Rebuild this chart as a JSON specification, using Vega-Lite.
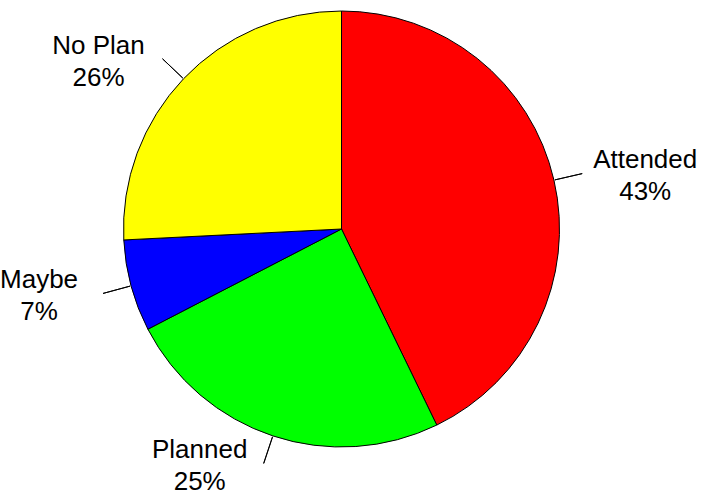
{
  "$schema": "https://vega.github.io/schema/vega-lite/v6.json",
  "width": 683,
  "height": 458,
  "autosize": {"type": "none"},
  "padding": {"left": 0, "top": 0, "right": 18, "bottom": 40},
  "background": "white",
  "config": {"view": {"stroke": null}},
  "data": {
    "values": [
      {"category": "Attended", "pct": "43%", "value": 42.8, "ord": 1},
      {"category": "Planned", "pct": "25%", "value": 24.6, "ord": 2},
      {"category": "Maybe", "pct": "7%", "value": 6.8, "ord": 3},
      {"category": "No Plan", "pct": "26%", "value": 25.8, "ord": 4}
    ]
  },
  "encoding": {
    "theta": {"field": "value", "type": "quantitative", "stack": true},
    "order": {"field": "ord", "type": "quantitative"},
    "detail": {"field": "category", "type": "nominal"}
  },
  "layer": [
    {
      "mark": {"type": "arc", "radius": 218, "stroke": "#000000", "strokeWidth": 1},
      "encoding": {
        "color": {
          "field": "category",
          "type": "nominal",
          "scale": {"domain": ["Attended", "Planned", "Maybe", "No Plan"], "range": ["#ff0000", "#00ff00", "#0000ff", "#ffff00"]},
          "legend": null
        }
      }
    },
    {
      "mark": {"type": "arc", "radius": 247, "radius2": 219, "padAngle": 3.0, "filled": false, "color": "#000000", "strokeWidth": 1}
    },
    {
      "mark": {"type": "text", "radius": 247, "dx": 63, "dy": -14, "font": "Liberation Sans", "fontSize": 26, "color": "#000000"},
      "encoding": {
        "text": {"field": "category", "type": "nominal"},
        "opacity": {"condition": {"test": "datum.category === 'Attended'", "value": 1}, "value": 0}
      }
    },
    {
      "mark": {"type": "text", "radius": 247, "dx": 63, "dy": 18, "font": "Liberation Sans", "fontSize": 26, "color": "#000000"},
      "encoding": {
        "text": {"field": "pct", "type": "nominal"},
        "opacity": {"condition": {"test": "datum.category === 'Attended'", "value": 1}, "value": 0}
      }
    },
    {
      "mark": {"type": "text", "radius": 247, "dx": -64, "dy": -13, "font": "Liberation Sans", "fontSize": 26, "color": "#000000"},
      "encoding": {
        "text": {"field": "category", "type": "nominal"},
        "opacity": {"condition": {"test": "datum.category !== 'Attended'", "value": 1}, "value": 0}
      }
    },
    {
      "mark": {"type": "text", "radius": 247, "dx": -64, "dy": 19, "font": "Liberation Sans", "fontSize": 26, "color": "#000000"},
      "encoding": {
        "text": {"field": "pct", "type": "nominal"},
        "opacity": {"condition": {"test": "datum.category !== 'Attended'", "value": 1}, "value": 0}
      }
    }
  ]
}
